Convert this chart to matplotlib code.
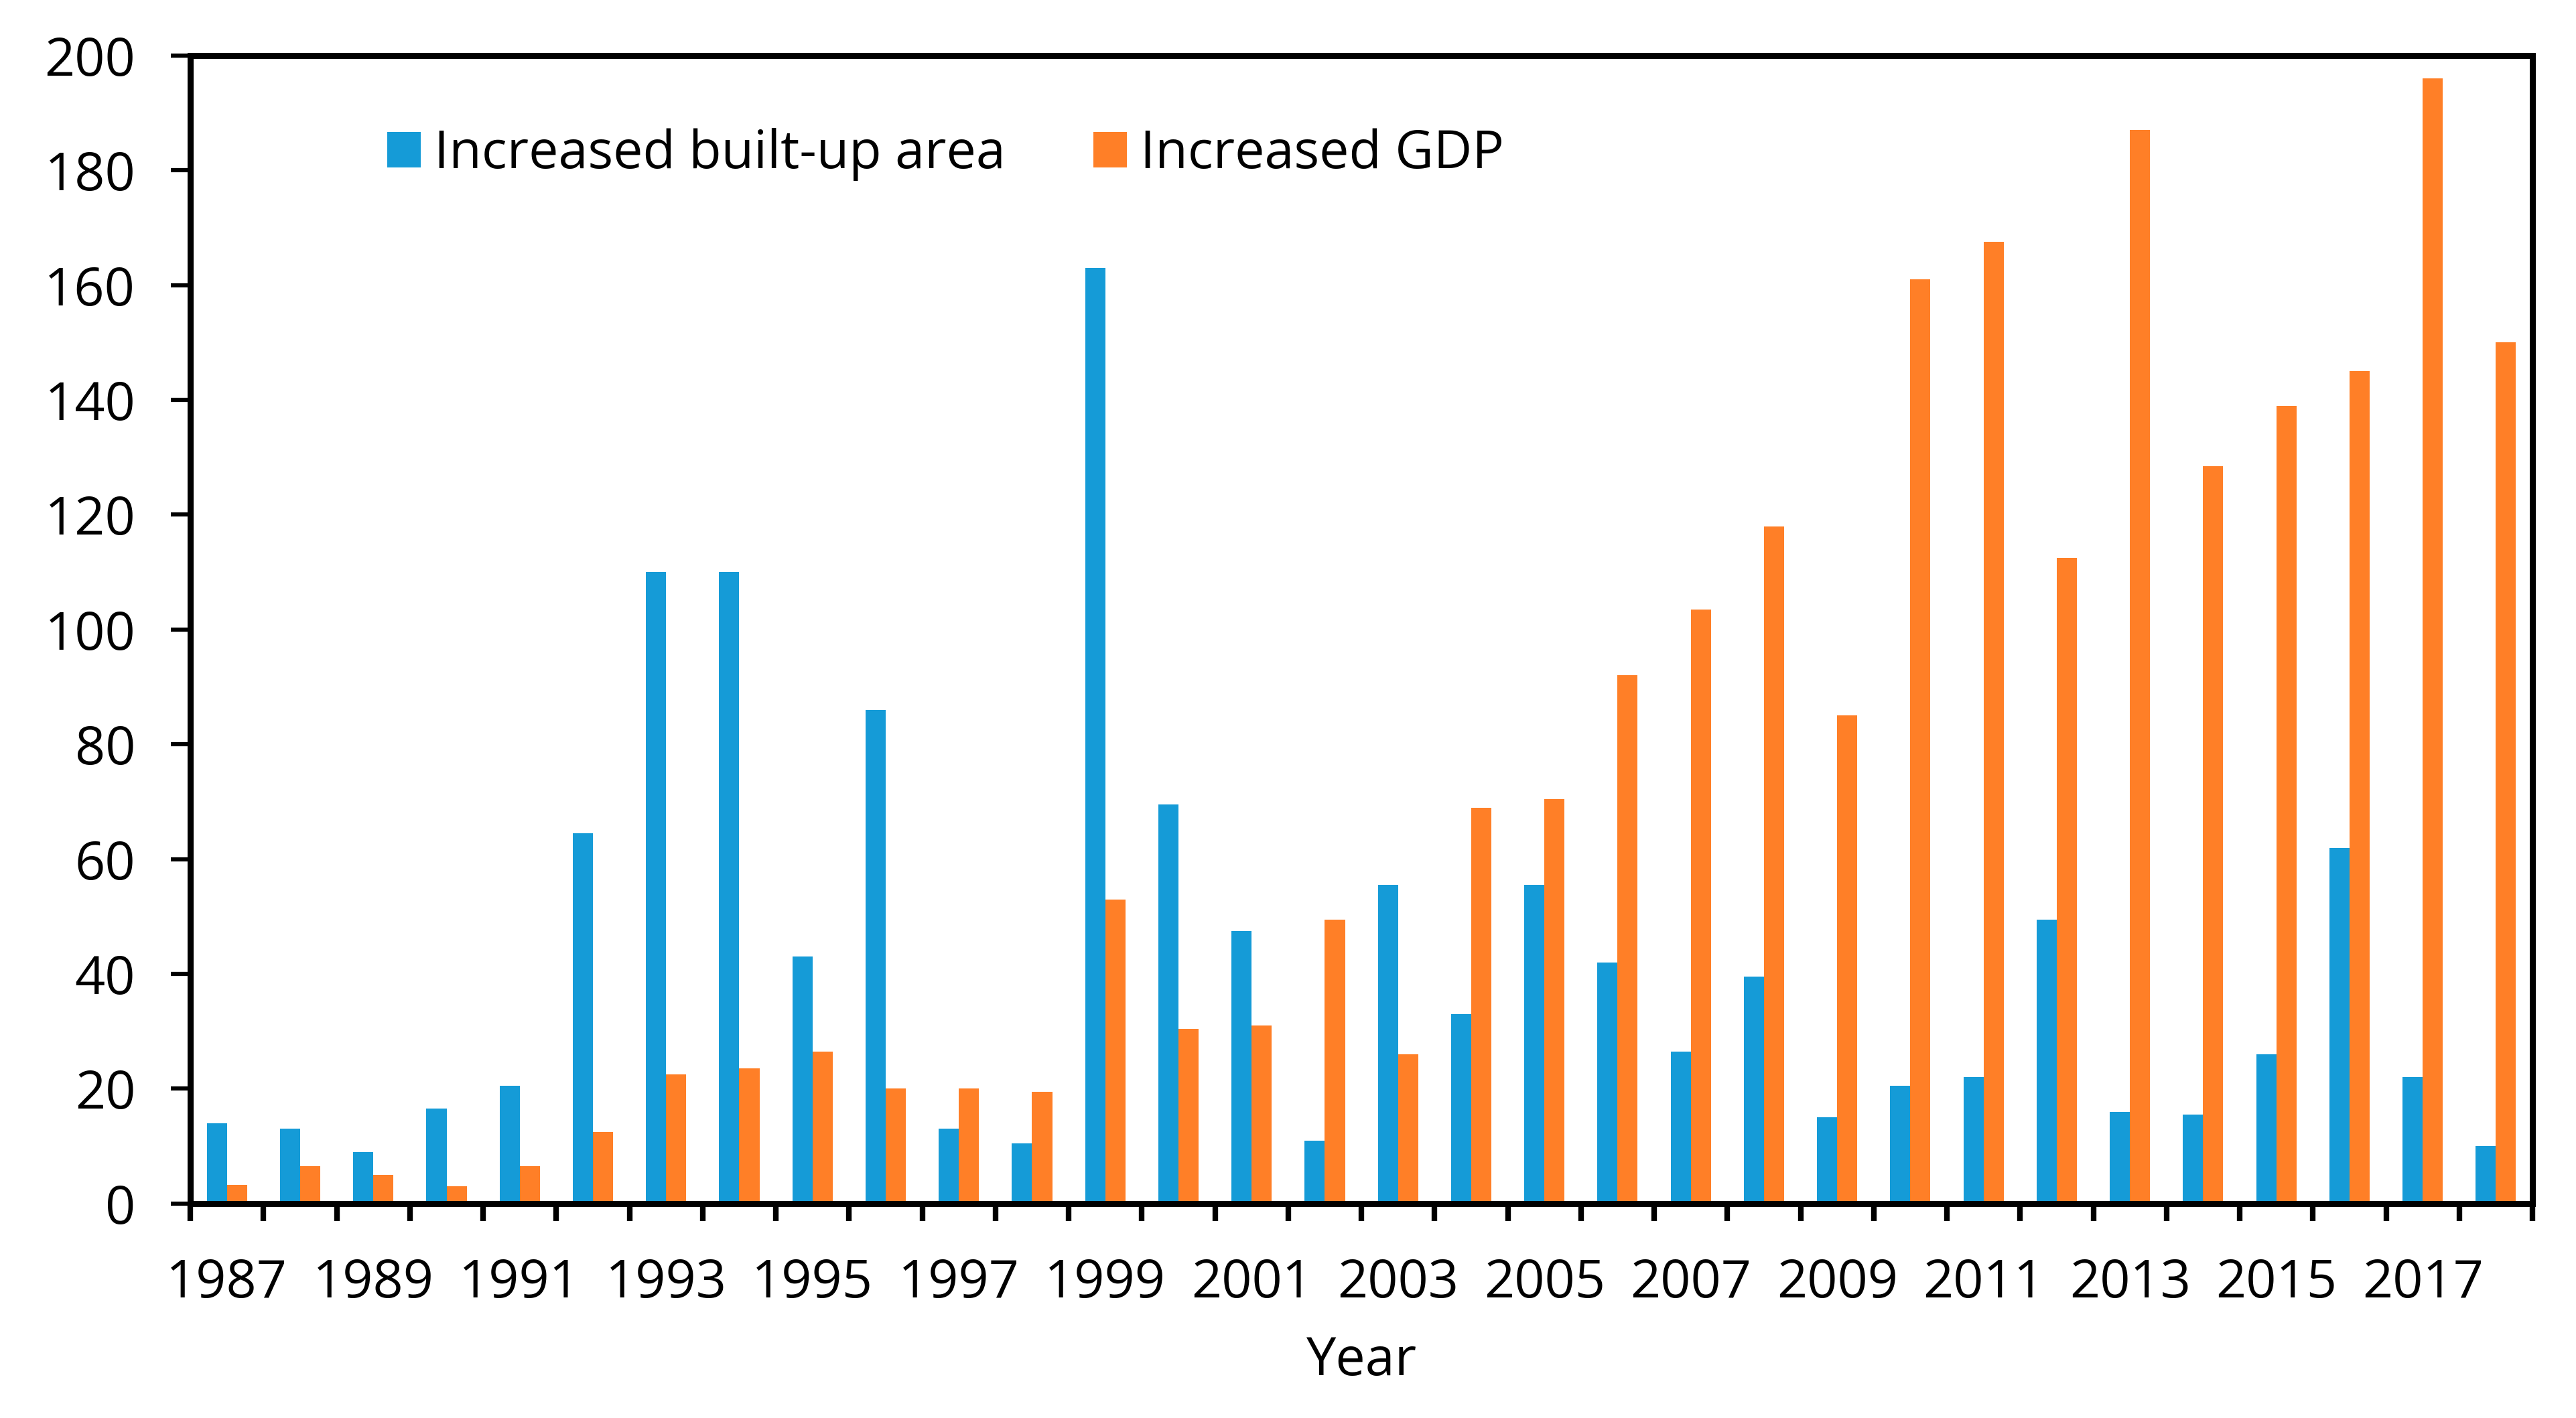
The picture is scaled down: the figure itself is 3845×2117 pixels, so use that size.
import numpy as np
import matplotlib.pyplot as plt
from matplotlib.ticker import FixedLocator

# ------- data
years = list(range(1987, 2019))
built_up = [14, 13, 9, 16.5, 20.5, 64.5, 110, 110, 43, 86,
            13, 10.5, 163, 69.5, 47.5, 11, 55.5, 33, 55.5, 42,
            26.5, 39.5, 15, 20.5, 22, 49.5, 16, 15.5, 26, 62,
            22, 10]
gdp = [3.3, 6.5, 5, 3, 6.5, 12.5, 22.5, 23.5, 26.5, 20,
       20, 19.5, 53, 30.5, 31, 49.5, 26, 69, 70.5, 92,
       103.5, 118, 85, 161, 167.5, 112.5, 187, 128.5, 139, 145,
       196, 150]
y_ticks = list(range(0, 201, 20))

# ------- plot appearance
plt.rcParams.update({'font.family': ['Open Sans', 'DejaVu Sans'],
                     'font.size': 57})

fig = plt.figure(figsize=(38.45, 21.17), dpi=100)
ax = fig.add_axes([0.0739, 0.1512, 0.9092, 0.8097])

x = np.arange(len(years))
w = 0.275
ax.bar(x - w/2, built_up, width=w, color='#159BD7', label='Increased built-up area')
ax.bar(x + w/2, gdp, width=w, color='#FF7F27', label='Increased GDP')

ax.set_xlim(-0.5, len(years) - 0.5)
ax.set_ylim(0, 200)
ax.set_yticks(y_ticks)

# year labels on every other category, tick marks on category borders
ax.set_xticks(x[::2])
ax.set_xticklabels([str(y) for y in years[::2]])
ax.xaxis.set_minor_locator(FixedLocator(np.arange(-0.5, len(years), 1)))
ax.tick_params(axis='x', which='major', length=0, pad=58)
ax.tick_params(axis='x', which='minor', length=19, width=6, direction='out')
ax.tick_params(axis='y', length=21, width=4.5, direction='out', pad=38)

for side in ['left', 'bottom', 'right', 'top']:
    ax.spines[side].set_linewidth(6.5)

ax.set_xlabel('Year', labelpad=26)
ax.legend(loc='center left', bbox_to_anchor=(0.084, 0.9137), ncol=2, frameon=False,
          borderpad=0, borderaxespad=0,
          handlelength=0.64, handleheight=0.64, handletextpad=0.25, columnspacing=1.65)

plt.savefig('out.png', dpi=100)
